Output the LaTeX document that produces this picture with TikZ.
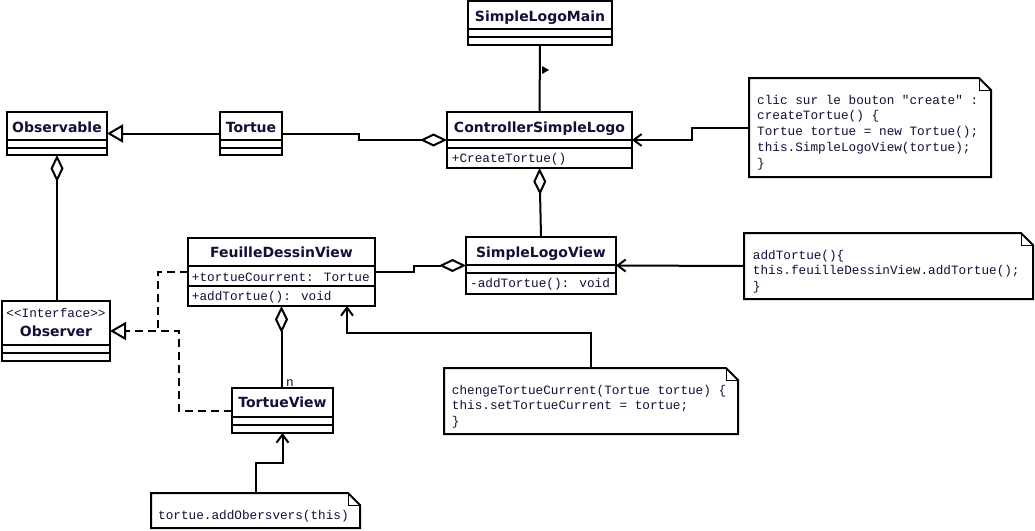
\documentclass[tikz,border=0pt]{standalone}
\usepackage{fontspec}
\usetikzlibrary{arrows.meta,calc}
\newfontfamily\clsfont{DejaVu Sans}
\newfontfamily\codefont{Liberation Mono}
\definecolor{ink}{RGB}{16,16,56}
\definecolor{edge}{RGB}{0,0,0}

\tikzset{
  umlbox/.style={rectangle, draw=edge, line width=2pt, fill=white, inner sep=0pt, outer sep=0pt},
  divider/.style={draw=edge, line width=2pt},
  clstitle/.style={font=\clsfont\bfseries\fontsize{14}{16}\selectfont, text=ink, anchor=base, inner sep=0pt},
  member/.style={font=\codefont\fontsize{12.7}{15.8}\selectfont, text=ink, anchor=base west, inner sep=0pt},
  notetext/.style={member, align=left},
  link/.style={draw=edge, line width=2pt},
  dep/.style={link, dash pattern=on 8pt off 5pt},
  aggtail/.style={{Diamond[open, length=27pt, width=13pt, fill=white]}-},
  realize/.style={-{Triangle[open, length=16pt, width=18pt, fill=white]}},
  navig/.style={-{Straight Barb[length=8pt, width=12pt]}},
}

% class box: name, x1, y1, x2, y2, first divider, second divider
\newcommand\umlclass[7]{%
  \node[umlbox, minimum width={#4-#2}, minimum height={#5-#3}] (#1) at ({(#2+#4)/2},{(#3+#5)/2}) {};
  \draw[divider] (#1.west |- 0,#6) -- (#1.east |- 0,#6)
                 (#1.west |- 0,#7) -- (#1.east |- 0,#7);
}
% note with a folded corner: name, x1, y1, x2, y2
\newcommand\umlnote[5]{%
  \node[rectangle, inner sep=0pt, outer sep=0pt, minimum width={#4-#2}, minimum height={#5-#3}] (#1) at ({(#2+#4)/2},{(#3+#5)/2}) {};
  \draw[link, fill=white] (#1.north west) -- ([xshift=-12pt]#1.north east) -- ([yshift=-12pt]#1.north east)
        -- (#1.south east) -- (#1.south west) -- cycle;
  \draw[edge, line width=1pt] ([xshift=-12pt]#1.north east) -- ([xshift=-12pt,yshift=-12pt]#1.north east)
        -- ([yshift=-12pt]#1.north east);
}

\begin{document}
\begin{tikzpicture}[x=1pt, y=-1pt]
\useasboundingbox[fill=white] (0,0) rectangle (1035,530);

% classes
\umlclass{main}{468}{1}{612}{45}{29}{37}
\umlclass{ctrl}{447}{112}{632}{168}{140}{148}
\umlclass{obs}{7}{112}{107}{155}{140}{148}
\umlclass{tortue}{220}{112}{282}{155}{140}{148}
\umlclass{observer}{2}{301}{110}{361}{345}{353}
\umlclass{feuille}{188}{238}{375}{306}{266}{286}
\umlclass{slview}{466}{237}{616}{294}{265}{273}
\umlclass{tv}{232}{388}{333}{433}{417}{425}

\node[clstitle] (main-t) at (540,21) {SimpleLogoMain};
\node[clstitle] (ctrl-t) at (539.5,132) {ControllerSimpleLogo};
\node[clstitle] (obs-t) at (57,132) {Observable};
\node[clstitle] (tortue-t) at (251,132) {Tortue};
\node[clstitle] (feuille-t) at (281.5,257.5) {FeuilleDessinView};
\node[clstitle] (slview-t) at (541,257) {SimpleLogoView};
\node[clstitle] (tv-t) at (282.5,407) {TortueView};
\node[member, anchor=base] (observer-s) at (56,317.5) {<<Interface>>};
\node[clstitle] (observer-t) at (56,336) {Observer};

\node[member] (ctrl-m) at (451.7,162.3) {+CreateTortue()};
\node[member] (feuille-a) at (191.7,281) {+tortueCourrent: Tortue};
\node[member] (feuille-m) at (191.7,300.7) {+addTortue(): void};
\node[member] (slview-m) at (470,287.3) {-addTortue(): void};

% notes (text nodes are placed by the baseline of their last line)
\umlnote{note1}{749}{78}{991}{177}
\umlnote{note2}{744}{233}{1033}{299}
\umlnote{note3}{444}{368}{738}{434}
\umlnote{note4}{151}{493}{360}{528}

\node[notetext] (note1-t) at (757,167.2) {clic sur le bouton "create" :\\createTortue()  \{\\Tortue tortue = new Tortue();\\this.SimpleLogoView(tortue);\\\}};
\node[notetext] (note2-t) at (752.7,290.6) {addTortue()\{\\this.feuilleDessinView.addTortue();\\\}};
\node[notetext] (note3-t) at (451.7,425.6) {chengeTortueCurrent(Tortue tortue)  \{\\this.setTortueCurrent = tortue;\\\}};
\node[notetext] (note4-t) at (158,519) {tortue.addObersvers(this)};

% associations
\draw[link] (main.south) -- (ctrl.north);
\fill[edge] (542,66) -- (549,70) -- (542,74) -- cycle;
\draw[link, realize] (tortue.west) -- (obs.east);
\draw[link, aggtail] (ctrl.west) -| ([xshift=77pt]tortue.east) -- (tortue.east);
\draw[link, aggtail] (obs.south) -- (obs.south |- observer.north);
\draw[link, aggtail] (ctrl.south) -- (slview.north);
\draw[link, aggtail] (slview.west) -| ([xshift=39pt]feuille.east) -- (feuille.east);
\draw[link, aggtail] (feuille.south) -- (feuille.south |- tv.north);
\node[member] (mult) at (286,386) {n};

% realizations of Observer
\draw[dep, realize] (feuille.west) -- ++(-30,0) |- (observer.east);
\draw[dep] (tv.west) -| ([xshift=69pt]observer.east) -- ([xshift=48pt]observer.east);

% note links
\draw[link, navig] (note1.west) -- ++(-57,0) |- (ctrl.east);
\draw[link, navig] (note2.west) -- (slview.east);
\draw[link, navig] (note3.north) -- ++(0,-35) -| ([xshift=-28pt]feuille.south east);
\draw[link, navig] (note4.north) -- ++(0,-30) -| (tv.south);
\end{tikzpicture}
\end{document}
